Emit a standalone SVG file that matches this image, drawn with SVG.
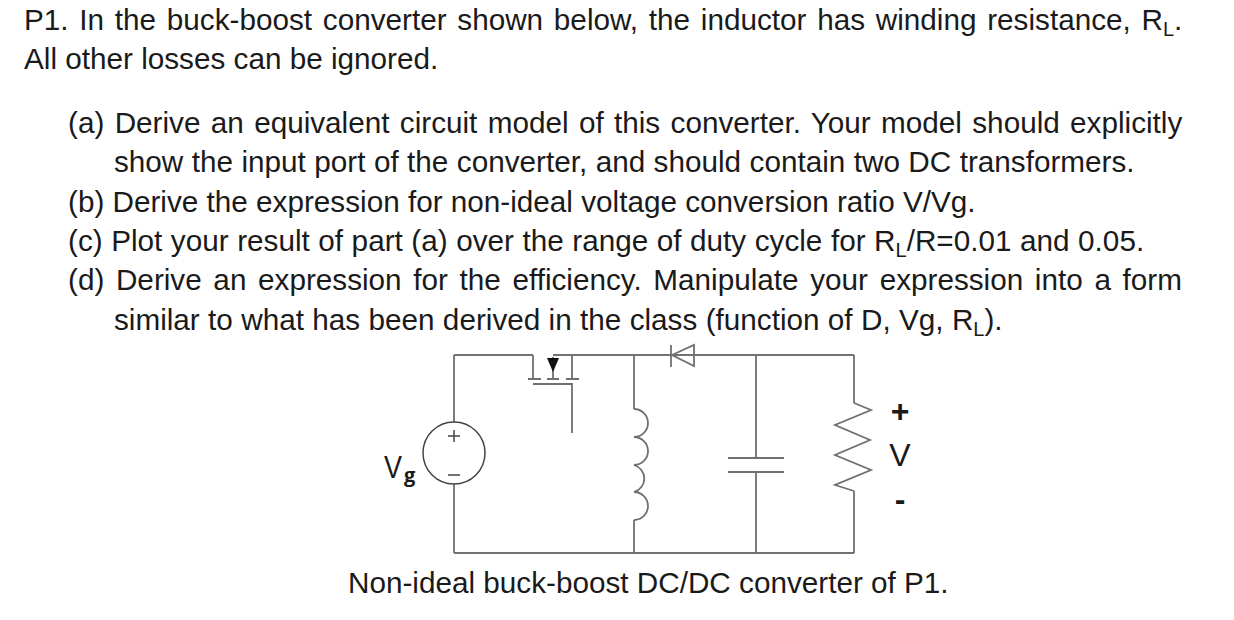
<svg xmlns="http://www.w3.org/2000/svg" width="1234" height="620" viewBox="0 0 1234 620">
<style>
text{font-family:"Liberation Sans",Arial,sans-serif;font-size:29.7px;fill:#1a1a1a}
.s{font-size:20px}
.w{fill:none;stroke:#707070;stroke-width:1.8}
.d{fill:none;stroke:#444;stroke-width:1.5}
.m{font-size:32px}
</style>
<rect width="1234" height="620" fill="#fff"/>
<g id="problem-text">
<text x="24" y="30" word-spacing="2.5">P1. In the buck-boost converter shown below, the inductor has winding resistance, R<tspan class="s" dy="6">L</tspan><tspan dy="-6">.</tspan></text>
<text x="24" y="69">All other losses can be ignored.</text>
<text x="68" y="133" word-spacing="2.1">(a) Derive an equivalent circuit model of this converter. Your model should explicitly</text>
<text x="114" y="172" word-spacing="0.2">show the input port of the converter, and should contain two DC transformers.</text>
<text x="68" y="212">(b) Derive the expression for non-ideal voltage conversion ratio V/Vg.</text>
<text x="68" y="251" word-spacing="0.3">(c) Plot your result of part (a) over the range of duty cycle for R<tspan class="s" dy="6">L</tspan><tspan dy="-6">/R=0.01 and 0.05.</tspan></text>
<text x="68" y="290" word-spacing="3.4">(d) Derive an expression for the efficiency. Manipulate your expression into a form</text>
<text x="114" y="330" word-spacing="0.1">similar to what has been derived in the class (function of D, Vg, R<tspan class="s" dy="6">L</tspan><tspan dy="-6">).</tspan></text>
</g>
<g id="connectors">
<path class="d" d="M454 355H533M553 355H854M454 553H854"/>
<path class="w" d="M454 422V355M454 484V553M634 355V409M634 520V553M756 355V458M756 472V553M854 355V403M854 491V553"/>
</g>
<g id="source-vg">
<circle class="d" cx="454" cy="453" r="31"/>
<path class="d" d="M448 436H460M454 430V442M448 475H460"/>
<text x="384" y="478" style="font-size:32px" textLength="18" lengthAdjust="spacingAndGlyphs">V</text>
<text x="404" y="482" style="font-size:20px;font-weight:bold;font-family:'Open Sans',sans-serif">g</text>
</g>
<g id="switch">
<path class="w" d="M533 355V379M528 379H541M553 357V379M547 379H559M572 355V379M566 379H579M533 384H572V433"/>
<path d="M547 358H559L553 372Z" fill="#111"/>
</g>
<g id="inductor">
<path class="w" d="M634 409A14 14 0 0 1 634 437A14 14 0 0 1 634 465A14 14 0 0 1 634 492A14 14 0 0 1 634 520"/>
</g>
<g id="diode">
<path class="w" d="M671 345V367M672 355L694 345V366Z"/>
</g>
<g id="capacitor">
<path class="w" d="M728 458H784M728 472H784"/>
</g>
<g id="resistor">
<path class="w" d="M854 403L871 410L835 425L870 440L835 455L871 470L835 485L854 491"/>
<text class="m" x="900" y="422" text-anchor="middle" font-weight="bold">+</text>
<text class="m" x="900" y="466" text-anchor="middle">V</text>
<text class="m" x="900" y="510" text-anchor="middle" font-weight="bold">-</text>
</g>
<text id="caption" x="348" y="593">Non-ideal buck-boost DC/DC converter of P1.</text>
</svg>
